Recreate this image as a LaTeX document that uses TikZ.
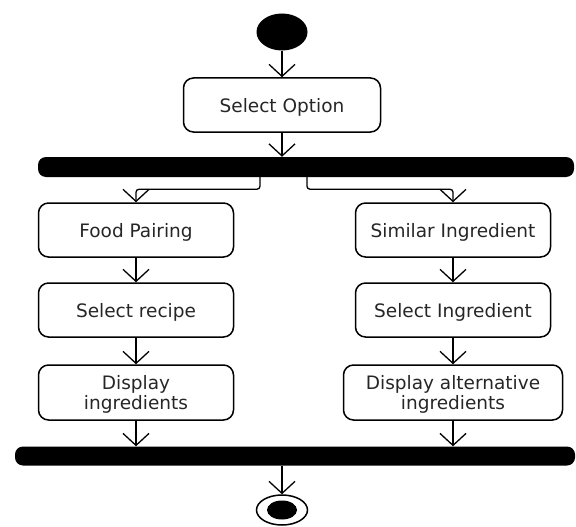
\documentclass[tikz,border=0pt]{standalone}
\usepackage{fontspec}
\setmainfont{DejaVu Sans}
\usetikzlibrary{shapes.geometric,arrows.meta}

\begin{document}
\begin{tikzpicture}[
            x = 1pt, y = -1pt,
            every node/.style={text depth=0pt, inner sep=0pt, font=\fontsize{18.5}{20}\selectfont},
            act/.style={draw, line width = 1.5pt, rounded corners = 10pt, minimum height = 54pt, align=center, text=black!85},
            bar/.style={fill=black, rounded corners = 8pt, minimum height = 20pt},
            flow/.style={line width = 1.3pt, -{Straight Barb[length=12pt, width=26pt, line width=1.3pt]}},
            ]
        \useasboundingbox (0,0) rectangle (576,527);

        \node[ellipse, fill=black, minimum width=51pt, minimum height=37pt] (start) at (282,32) {};
        \node[act, minimum width=197pt] (opt) at (282,105) {Select Option};
        \node[bar, minimum width=536pt] (fork) at (306,167) {};

        \node[act, minimum width=195pt] (food) at (136,230) {Food Pairing};
        \node[act, minimum width=195pt] (recipe) at (136,310) {Select recipe};
        \node[act, minimum width=195pt, minimum height=55pt] (disping) at (136,392.5) {Display\\ingredients};

        \node[act, minimum width=195pt] (similar) at (453,230) {Similar Ingredient};
        \node[act, minimum width=195pt] (seling) at (453,310) {Select Ingredient};
        \node[act, minimum width=219pt, minimum height=55pt] (dispalt) at (453,392.5) {Display alternative\\ingredients};

        \node[bar, minimum width=560pt, minimum height=19pt] (join) at (295,456) {};
        \node[ellipse, draw, line width=1.5pt, minimum width=51pt, minimum height=30pt] (end) at (282,510) {};
        \node[ellipse, fill=black, minimum width=30pt, minimum height=19pt] (endin) at (end) {};

        \draw[flow] (start) -- (opt);
        \draw[flow] (opt) -- (opt |- fork.north);
        \draw[flow, rounded corners=3pt] ([xshift=-46pt]fork.south) |- ([yshift=13pt]food.north) -- (food.north);
        \draw[flow, rounded corners=3pt] ([xshift=1pt]fork.south) |- ([yshift=13pt]similar.north) -- (similar.north);
        \draw[flow] (food) -- (recipe);
        \draw[flow] (recipe) -- (disping);
        \draw[flow] (disping) -- (disping |- join.north);
        \draw[flow] (similar) -- (seling);
        \draw[flow] (seling) -- (dispalt);
        \draw[flow] (dispalt) -- (dispalt |- join.north);
        \draw[flow] (join.south -| end) -- (end);
    \end{tikzpicture}
\end{document}
